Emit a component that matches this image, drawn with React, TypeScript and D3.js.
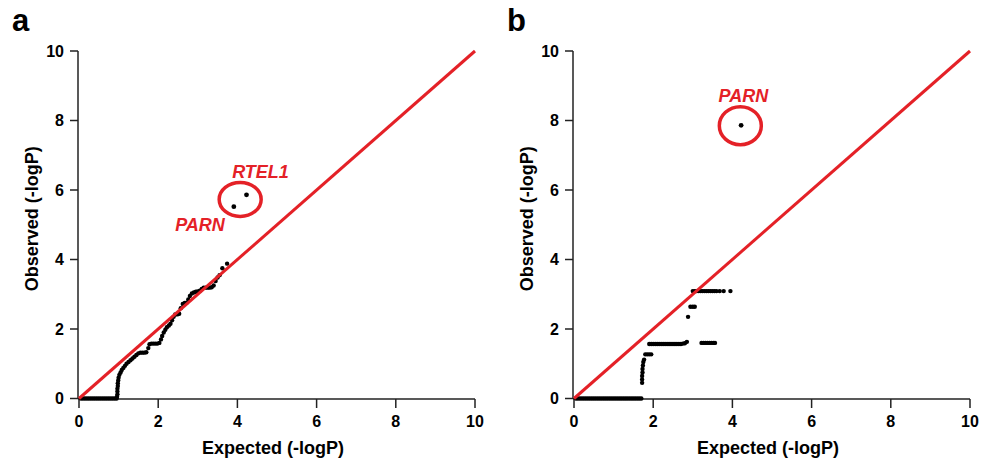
import * as d3 from 'd3'

const ZERO_A = [0.05, 0.1, 0.15, 0.2, 0.25, 0.3, 0.35, 0.4, 0.45, 0.5, 0.55, 0.6, 0.65, 0.7, 0.75, 0.8, 0.85, 0.9, 0.95]
const CURVE_A: [number, number][] = [
  [0.96, 0.05], [0.97, 0.12], [0.97, 0.2], [0.97, 0.28], [0.98, 0.36], [0.98, 0.44], [0.99, 0.52],
  [1.0, 0.6], [1.02, 0.68], [1.05, 0.75], [1.08, 0.82], [1.12, 0.88], [1.16, 0.94], [1.2, 1.0],
  [1.25, 1.05], [1.3, 1.1], [1.35, 1.15], [1.4, 1.2], [1.45, 1.25], [1.5, 1.3], [1.55, 1.32],
  [1.6, 1.32], [1.65, 1.32], [1.7, 1.33], [1.75, 1.45], [1.78, 1.56], [1.83, 1.58], [1.88, 1.58],
  [1.93, 1.58], [1.98, 1.58], [2.03, 1.6], [2.07, 1.7], [2.1, 1.8], [2.14, 1.9], [2.18, 1.98],
  [2.22, 2.05], [2.27, 2.1], [2.31, 2.15], [2.35, 2.25], [2.39, 2.35], [2.43, 2.42], [2.48, 2.42],
  [2.53, 2.44], [2.57, 2.6], [2.62, 2.72], [2.67, 2.75], [2.72, 2.76], [2.76, 2.85], [2.8, 2.95],
  [2.85, 3.02], [2.9, 3.05], [2.95, 3.07], [3.0, 3.08], [3.05, 3.1], [3.1, 3.15], [3.15, 3.19],
  [3.2, 3.19], [3.25, 3.19], [3.3, 3.19], [3.35, 3.2], [3.4, 3.25], [3.45, 3.38], [3.5, 3.48],
  [3.55, 3.55], [3.62, 3.75], [3.74, 3.88],
]
const HITS_A = [
  { name: 'PARN', x: 3.91, y: 5.52 },
  { name: 'RTEL1', x: 4.23, y: 5.86 },
]

const ZERO_B = [0.05, 0.1, 0.15, 0.2, 0.25, 0.3, 0.35, 0.4, 0.45, 0.5, 0.55, 0.6, 0.65, 0.7, 0.75, 0.8,
  0.85, 0.9, 0.95, 1.0, 1.05, 1.1, 1.15, 1.2, 1.25, 1.3, 1.35, 1.4, 1.45, 1.5, 1.55, 1.6, 1.65, 1.7]
const CURVE_B: [number, number][] = [
  [1.72, 0.45], [1.72, 0.55], [1.72, 0.65], [1.73, 0.75], [1.73, 0.85], [1.74, 0.95], [1.75, 1.05],
  [1.77, 1.12], [1.8, 1.27], [1.85, 1.27], [1.9, 1.27], [1.95, 1.27],
  [1.9, 1.57], [1.95, 1.57], [2.0, 1.57], [2.05, 1.57], [2.1, 1.57], [2.15, 1.57], [2.2, 1.57],
  [2.25, 1.57], [2.3, 1.57], [2.35, 1.57], [2.4, 1.57], [2.45, 1.57], [2.5, 1.57], [2.55, 1.57],
  [2.6, 1.57], [2.65, 1.57], [2.7, 1.57], [2.75, 1.58], [2.8, 1.59], [2.85, 1.63],
  [3.22, 1.6], [3.27, 1.6], [3.32, 1.6], [3.37, 1.6], [3.42, 1.6], [3.47, 1.6], [3.52, 1.6], [3.56, 1.6],
  [2.88, 2.35], [2.94, 2.64], [3.0, 2.64], [3.05, 2.64],
  [3.0, 3.09], [3.05, 3.09], [3.1, 3.09], [3.15, 3.09], [3.2, 3.09], [3.25, 3.09], [3.3, 3.09],
  [3.35, 3.09], [3.4, 3.09], [3.45, 3.09], [3.5, 3.09], [3.55, 3.09], [3.6, 3.09], [3.68, 3.09],
  [3.78, 3.09], [3.95, 3.09],
]
const HITS_B = [{ name: 'PARN', x: 4.22, y: 7.86 }]

const TICKS = [0, 2, 4, 6, 8, 10]
const RED = '#e42127'
const FONT = '"Liberation Sans", Arial, sans-serif'

type Hit = { name: string; x: number; y: number }
type Panel = {
  letter: string
  left: number
  points: [number, number][]
  hits: Hit[]
  ring: { x: number; y: number; rx: number; ry: number }
  labels: { name: string; dx: number; dy: number; anchor: string }[]
}

const PANELS: Panel[] = [
  {
    letter: 'a',
    left: 79,
    points: [...ZERO_A.map(x => [x, 0] as [number, number]), ...CURVE_A],
    hits: HITS_A,
    ring: { x: 4.07, y: 5.73, rx: 21, ry: 17 },
    labels: [
      { name: 'RTEL1', dx: -8, dy: -21, anchor: 'start' },
      { name: 'PARN', dx: -65, dy: 32, anchor: 'start' },
    ],
  },
  {
    letter: 'b',
    left: 574,
    points: [...ZERO_B.map(x => [x, 0] as [number, number]), ...CURVE_B],
    hits: HITS_B,
    ring: { x: 4.2, y: 7.85, rx: 21, ry: 19 },
    labels: [{ name: 'PARN', dx: 3, dy: -24, anchor: 'middle' }],
  },
]

function QQPanel({ p }: { p: Panel }) {
  const x = d3.scaleLinear().domain([0, 10]).range([p.left, p.left + 396])
  const y = d3.scaleLinear().domain([0, 10]).range([398.5, 51])
  const line = d3.line<[number, number]>().x(d => x(d[0])).y(d => y(d[1]))
  const axisY = p.left - 1
  const xAxisY = 399
  return (
    <g fontFamily={FONT} fontWeight="bold">
      <text x={p.left - 67} y={31} fontSize={31}>{p.letter}</text>
      {/* y axis */}
      <line x1={axisY} x2={axisY} y1={y(10)} y2={xAxisY} stroke="#222" strokeWidth={1.5} />
      {TICKS.map(t => (
        <g key={'y' + t}>
          <line x1={axisY - 8} x2={axisY} y1={y(t)} y2={y(t)} stroke="#222" strokeWidth={1.5} />
          <text x={axisY - 14} y={y(t)} dy="0.35em" textAnchor="end" fontSize={16}>{t}</text>
        </g>
      ))}
      {/* x axis */}
      <line x1={x(0) - 1} x2={x(10)} y1={xAxisY} y2={xAxisY} stroke="#222" strokeWidth={1.5} />
      {TICKS.map(t => (
        <g key={'x' + t}>
          <line x1={x(t)} x2={x(t)} y1={xAxisY} y2={xAxisY + 9} stroke="#222" strokeWidth={1.5} />
          <text x={x(t)} y={427} textAnchor="middle" fontSize={16}>{t}</text>
        </g>
      ))}
      <text x={x(5) - 4} y={454} textAnchor="middle" fontSize={18}>Expected (-logP)</text>
      <text transform={`translate(${p.left - 41},${y(5) - 6}) rotate(-90)`} textAnchor="middle" fontSize={18}>
        Observed (-logP)
      </text>
      {/* points */}
      {p.points.map((d, i) => (
        <circle key={i} cx={x(d[0])} cy={y(d[1])} r={2.2} fill="#000" />
      ))}
      {/* null line */}
      <path d={line([[0, 0], [10, 10]]) ?? ''} stroke={RED} strokeWidth={3} fill="none" />
      {p.hits.map(h => (
        <circle key={h.name} cx={x(h.x)} cy={y(h.y)} r={2.4} fill="#000" />
      ))}
      <ellipse cx={x(p.ring.x)} cy={y(p.ring.y)} rx={p.ring.rx} ry={p.ring.ry} fill="none" stroke={RED} strokeWidth={3.5} />
      {p.labels.map(l => (
        <text key={l.name} x={x(p.ring.x) + l.dx} y={y(p.ring.y) + l.dy} textAnchor={l.anchor}
          fontSize={18} fontStyle="italic" fill={RED}>{l.name}</text>
      ))}
    </g>
  )
}

export default function App() {
  return (
    <svg width={982} height={462} style={{ position: 'absolute', left: 0, top: 0, background: '#fff' }}>
      {PANELS.map(p => <QQPanel key={p.letter} p={p} />)}
    </svg>
  )
}
